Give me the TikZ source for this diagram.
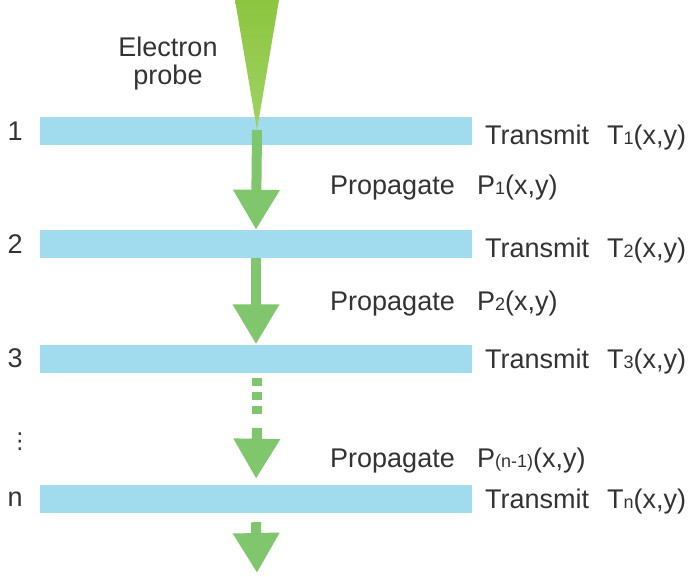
\documentclass[tikz,border=0pt]{standalone}
\usepackage{fontspec}
\setmainfont{Liberation Sans}
\newfontfamily\symbolfont{DejaVu Sans}
\usetikzlibrary{arrows.meta,positioning}
\definecolor{barblue}{RGB}{160,220,237}
\definecolor{flowgreen}{RGB}{128,198,108}
\definecolor{conetop}{RGB}{140,198,63}
\definecolor{conetip}{RGB}{160,210,100}
\definecolor{txtgray}{RGB}{51,51,51}
\newcommand{\smallidx}[1]{{\fontsize{18}{18}\selectfont #1}}
\begin{document}
\begin{tikzpicture}[x=1pt,y=-1pt,
	bar/.style={fill=barblue,draw=none,minimum width=432pt,minimum height=28pt,inner sep=0pt},
	lbl/.style={text=txtgray,inner sep=0pt,font=\fontsize{27}{28}\selectfont},
	flow/.style={draw=flowgreen,line width=10pt,-{Triangle[width=44pt,length=40pt]}},
	flowdots/.style={draw=flowgreen,line width=10pt,dash pattern=on 8pt off 6pt}]
		\useasboundingbox[fill=white](0,0) rectangle (693,577);
		% slices
		\node[bar,name=bar1]at(256,131.5){};
		\node[bar,name=bar2]at(256,244){};
		\node[bar,name=bar3]at(256,358.5){};
		\node[bar,name=barn]at(256,499){};
		\node[lbl,left=17pt of bar1]{1};
		\node[lbl,left=17pt of bar2]{2};
		\node[lbl,left=17pt of bar3]{3};
		\node[lbl,left=17pt of barn]{n};
		\node[text=txtgray,inner sep=0pt,font=\symbolfont\fontsize{22}{22}\selectfont]at(20,442){⋮};
		% probe
		\coordinate (tip) at (257,130);
		\shade[top color=conetop,bottom color=conetip](235,0)--(279,0)--(tip)--cycle;
		\node[lbl,align=center]at(168,64){Electron\\probe};
		% propagation
		\draw[flow](tip)--(bar2.north);
		\draw[flow](bar2.south)--(bar3.north);
		\coordinate (d1) at (257,378);
		\coordinate (d2) at (257,418);
		\coordinate (d3) at (257,428);
		\draw[flowdots](d1)--(d2);
		\draw[flow,shorten >=6pt](d3)--(barn.north);
		\coordinate (exit) at (257,573);
		\draw[flow]([yshift=-9pt]barn.south)--(exit);
		% labels
		\node[lbl,anchor=base west]at(485,145){Transmit};
		\node[lbl,anchor=base west]at(607,145){T\smallidx{1}(x,y)};
		\node[lbl,anchor=base west]at(330,195){Propagate};
		\node[lbl,anchor=base west]at(477,195){P\smallidx{1}(x,y)};
		\node[lbl,anchor=base west]at(485,258){Transmit};
		\node[lbl,anchor=base west]at(607,258){T\smallidx{2}(x,y)};
		\node[lbl,anchor=base west]at(330,310){Propagate};
		\node[lbl,anchor=base west]at(477,310){P\smallidx{2}(x,y)};
		\node[lbl,anchor=base west]at(485,368){Transmit};
		\node[lbl,anchor=base west]at(607,368){T\smallidx{3}(x,y)};
		\node[lbl,anchor=base west]at(330,467){Propagate};
		\node[lbl,anchor=base west]at(477,467){P\smallidx{(n-1)}(x,y)};
		\node[lbl,anchor=base west]at(485,508){Transmit};
		\node[lbl,anchor=base west]at(607,508){T\smallidx{n}(x,y)};
	\end{tikzpicture}
\end{document}
